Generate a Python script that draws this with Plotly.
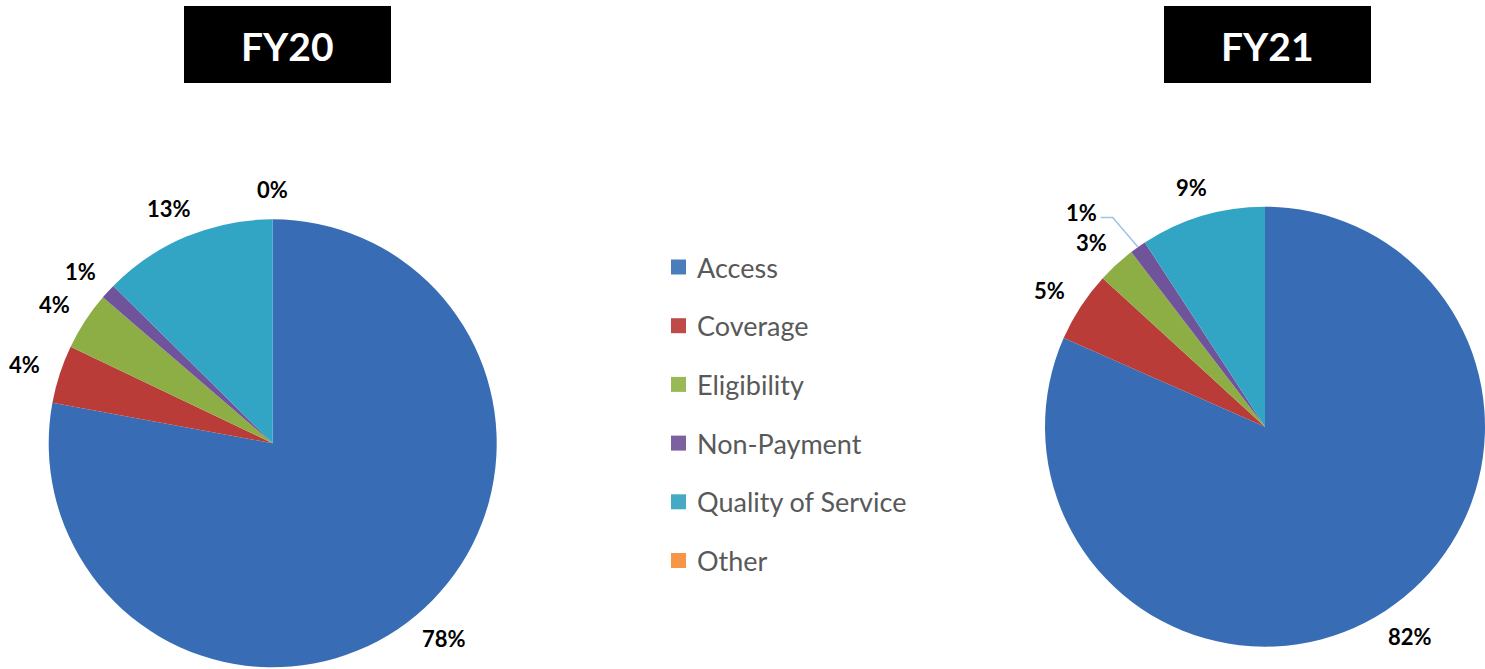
import math
import plotly.graph_objects as go

W, H = 1485, 669

# ---- data ----
categories = ["Access", "Coverage", "Eligibility", "Non-Payment", "Quality of Service", "Other"]
fy20_values = [77.9, 4.2, 4.2, 1.1, 12.6, 0.0]
fy21_values = [81.6, 5.2, 2.8, 1.2, 9.2, 0.0]
panel_titles = ["FY20", "FY21"]

# ---- styles ----
slice_colors = ["#386DB5", "#B93C39", "#8DAE44", "#6F549B", "#32A5C5", "#F38F3F"]
legend_colors = ["#4A7EBB", "#BE4B48", "#98B954", "#7D60A0", "#46AAC5", "#F79646"]
LABEL_FONT = "Lato"

# pie geometry in pixels (center x, center y, radius)
pies = [
    dict(name="FY20", values=fy20_values, cx=272.7, cy=443.3, r=224.0,
         box=(184, 6, 391, 83), zero_labels=True),
    dict(name="FY21", values=fy21_values, cx=1265.0, cy=426.7, r=220.0,
         box=(1164, 6, 1371, 83), zero_labels=False),
]
# manual label displacement (px) with leader line, like the original
leader_shift = {("FY21", "Non-Payment"): (-36, -10)}


def px(x):
    return x / W


def py(y):
    return 1 - y / H


fig = go.Figure()
annotations = []
shapes = []

for p, title in zip(pies, panel_titles):
    cx, cy, r = p["cx"], p["cy"], p["r"]
    fig.add_trace(go.Pie(
        labels=categories,
        values=p["values"],
        sort=False,
        direction="clockwise",
        rotation=0,
        textinfo="none",
        hoverinfo="label+percent",
        marker=dict(colors=slice_colors, line=dict(width=0)),
        domain=dict(x=[px(cx - r), min(1.0, px(cx + r))], y=[py(cy + r), py(cy - r)]),
        showlegend=False,
    ))

    # data labels computed from the values
    total = sum(p["values"])
    cum = 0.0
    for cat, v in zip(categories, p["values"]):
        mid = (cum + v / 2) / total * 2 * math.pi
        cum += v
        if v == 0 and not p["zero_labels"]:
            continue
        dx, dy = math.sin(mid), -math.cos(mid)
        txt = f"{int(math.floor(v / total * 100 + 0.5))}%"
        hw = 7.5 * len(txt)
        hh = 8
        g = 22
        lx = cx + dx * (r + g + hw)
        ly = cy + dy * (r + g + hh)
        key = (p["name"], cat)
        if key in leader_shift:
            sx, sy = leader_shift[key]
            lx += sx + (6.5 - 7.5) * len(txt) * dx
            ly += sy
            ex, ey = cx + dx * r, cy + dy * r
            x0 = lx + 6.5 * len(txt) + 6
            y0 = ly + 5
            shapes.append(dict(
                type="path", xref="paper", yref="paper",
                path=f"M {px(x0)} {py(y0)} L {px(x0 + 12)} {py(y0)} L {px(ex)} {py(ey)}",
                line=dict(color="#9DC3E6", width=1.5),
            ))
        annotations.append(dict(
            x=px(lx), y=py(ly), xref="paper", yref="paper", text=f"<b>{txt}</b>",
            showarrow=False, xanchor="center", yanchor="middle",
            font=dict(family=LABEL_FONT, size=22, color="#000000"),
        ))

    # title box
    x0, y0, x1, y1 = p["box"]
    shapes.append(dict(type="rect", xref="paper", yref="paper",
                       x0=px(x0), x1=px(x1), y0=py(y1), y1=py(y0),
                       fillcolor="#000000", line=dict(width=0), layer="below"))
    annotations.append(dict(
        x=px((x0 + x1) / 2), y=py((y0 + y1) / 2 + 1), xref="paper", yref="paper",
        text=f"<b>{title}</b>", showarrow=False, xanchor="center", yanchor="middle",
        font=dict(family=LABEL_FONT, size=39, color="#FFFFFF"),
    ))

# custom legend
leg_x, leg_y0, leg_dy, sq = 671, 267, 58.7, 15
for i, (cat, col) in enumerate(zip(categories, legend_colors)):
    yc = leg_y0 + i * leg_dy
    shapes.append(dict(type="rect", xref="paper", yref="paper",
                       x0=px(leg_x), x1=px(leg_x + sq), y0=py(yc + sq / 2), y1=py(yc - sq / 2),
                       fillcolor=col, line=dict(width=0)))
    annotations.append(dict(
        x=px(leg_x + sq + 9), y=py(yc), xref="paper", yref="paper", text=cat,
        showarrow=False, xanchor="left", yanchor="middle",
        font=dict(family=LABEL_FONT, size=27, color="#595959"),
    ))

fig.update_layout(
    width=W, height=H,
    margin=dict(l=0, r=0, t=0, b=0),
    paper_bgcolor="#FFFFFF",
    plot_bgcolor="#FFFFFF",
    showlegend=False,
    annotations=annotations,
    shapes=shapes,
)

fig.write_html("out.html")
